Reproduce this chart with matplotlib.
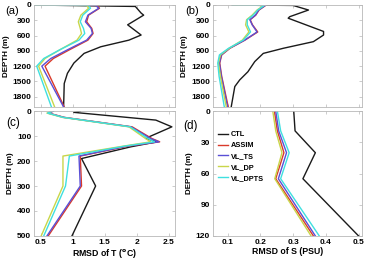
import matplotlib
matplotlib.use("Agg")
import matplotlib.pyplot as plt

plt.rcParams['font.family'] = ['Liberation Sans', 'DejaVu Sans']

# series names and colours
names = ["CTL", "ASSIM", "VL_TS", "VL_DP", "VL_DPTS"]
colors = ["#1a1a1a", "#d93a2b", "#5a4fd6", "#c9d64a", "#3fe0e0"]

# (a) RMSD of T, full depth
depth_a_ctl = [0, 30, 160, 200, 390, 590, 690, 820, 950, 1140, 1340, 1540, 2000]
t_a_ctl = [0.3, 1.98, 2.07, 2.11, 1.86, 2.07, 1.88, 1.44, 1.18, 1.02, 0.92, 0.87, 0.86]
depth_a = [0, 10, 65, 200, 330, 460, 560, 690, 880, 1050, 1200, 2000]
t_a_assim = [0.3, 1.38, 1.42, 1.25, 1.22, 1.30, 1.32, 1.24, 0.95, 0.70, 0.57, 0.87]
t_a_vlts = [0.3, 1.36, 1.41, 1.24, 1.20, 1.29, 1.31, 1.22, 0.92, 0.66, 0.52, 0.86]
t_a_vldp = [0.3, 1.22, 1.25, 1.13, 1.09, 1.12, 1.14, 1.07, 0.80, 0.57, 0.47, 0.72]
t_a_vldpts = [0.3, 1.25, 1.28, 1.16, 1.12, 1.17, 1.19, 1.10, 0.80, 0.55, 0.44, 0.67]

# (b) RMSD of S, full depth
depth_b_ctl = [0, 10, 100, 230, 260, 520, 590, 720, 850, 950, 1110, 1310, 1470, 1600, 2000]
s_b_ctl = [0.115, 0.30, 0.347, 0.29, 0.285, 0.393, 0.393, 0.362, 0.27, 0.209,
           0.183, 0.162, 0.137, 0.122, 0.111]
depth_b = [0, 10, 100, 200, 290, 390, 530, 690, 850, 980, 1140, 1400, 2000]
s_b_assim = [0.115, 0.216, 0.196, 0.186, 0.169, 0.176, 0.192, 0.153, 0.107, 0.082, 0.076, 0.082, 0.102]
s_b_vlts = [0.115, 0.215, 0.195, 0.185, 0.168, 0.175, 0.190, 0.152, 0.106, 0.081, 0.075, 0.081, 0.100]
s_b_vldp = [0.115, 0.210, 0.190, 0.175, 0.158, 0.155, 0.165, 0.145, 0.105, 0.078, 0.072, 0.078, 0.096]
s_b_vldpts = [0.115, 0.212, 0.192, 0.178, 0.160, 0.160, 0.170, 0.148, 0.103, 0.075, 0.070, 0.074, 0.090]

# (c) RMSD of T, upper 500 m
depth_c_ctl = [0, 5, 36, 63, 109, 123, 143, 190, 300, 500]
t_c_ctl = [1.12, 1.02, 2.30, 2.55, 2.14, 2.32, 1.91, 1.14, 1.36, 0.99]
depth_c = [0, 8, 25, 63, 110, 123, 140, 180, 300, 500]
t_c_assim = [0.70, 0.63, 0.87, 1.93, 2.24, 2.36, 1.87, 1.12, 1.14, 0.62]
t_c_vlts = [0.70, 0.62, 0.86, 1.91, 2.22, 2.35, 1.85, 1.10, 1.12, 0.60]
t_c_vldp = [0.68, 0.60, 0.84, 1.88, 2.14, 2.22, 1.80, 0.85, 0.85, 0.51]
t_c_vldpts = [0.69, 0.61, 0.85, 1.90, 2.18, 2.28, 1.82, 0.95, 0.89, 0.55]

# (d) RMSD of S, upper 120 m
depth_d = [0, 19, 40, 65, 120]
s_d_ctl = [0.302, 0.306, 0.368, 0.330, 0.500]
s_d_assim = [0.243, 0.252, 0.272, 0.247, 0.362]
s_d_vlts = [0.247, 0.256, 0.280, 0.255, 0.368]
s_d_vldp = [0.238, 0.247, 0.266, 0.244, 0.355]
s_d_vldpts = [0.252, 0.262, 0.288, 0.262, 0.380]

t_ticks = [0.5, 1, 1.5, 2, 2.5]
s_ticks = [0.1, 0.2, 0.3, 0.4, 0.5]

fig = plt.figure(figsize=(3.67, 2.59), dpi=100)
ax_a = fig.add_axes([0.093, 0.587, 0.384, 0.394])
ax_b = fig.add_axes([0.580, 0.587, 0.406, 0.394])
ax_c = fig.add_axes([0.093, 0.089, 0.384, 0.482])
ax_d = fig.add_axes([0.580, 0.089, 0.406, 0.482])

lw = 1.0


def draw(ax, ctl_d, ctl_v, d, series):
    ax.plot(ctl_v, ctl_d, color=colors[0], lw=lw, label=names[0])
    for i, v in enumerate(series):
        ax.plot(v, d, color=colors[i + 1], lw=lw, label=names[i + 1])


draw(ax_a, depth_a_ctl, t_a_ctl, depth_a, [t_a_assim, t_a_vlts, t_a_vldp, t_a_vldpts])
draw(ax_b, depth_b_ctl, s_b_ctl, depth_b, [s_b_assim, s_b_vlts, s_b_vldp, s_b_vldpts])
draw(ax_c, depth_c_ctl, t_c_ctl, depth_c, [t_c_assim, t_c_vlts, t_c_vldp, t_c_vldpts])
draw(ax_d, depth_d, s_d_ctl, depth_d, [s_d_assim, s_d_vlts, s_d_vldp, s_d_vldpts])

for ax in (ax_a, ax_c):
    ax.set_xlim(0.4, 2.6)
    ax.set_xticks(t_ticks)
for ax in (ax_b, ax_d):
    ax.set_xlim(0.055, 0.51)
    ax.set_xticks(s_ticks)

for ax in (ax_a, ax_b):
    ax.set_ylim(2000, 0)
    ax.set_yticks([0, 300, 600, 900, 1200, 1500, 1800])
    ax.set_xticklabels([])
ax_c.set_ylim(500, 0)
ax_c.set_yticks([0, 100, 200, 300, 400, 500])
ax_d.set_ylim(120, 0)
ax_d.set_yticks([0, 30, 60, 90, 120])
ax_c.set_xticklabels(["0.5", "1", "1.5", "2", "2.5"])
ax_d.set_xticklabels(["0.1", "0.2", "0.3", "0.4", "0.5"])

for ax in (ax_a, ax_b, ax_c, ax_d):
    for s in ax.spines.values():
        s.set_color("#b8b8b8")
        s.set_linewidth(0.6)
    ax.tick_params(direction="in", length=2, width=0.5, color="#b8b8b8",
                   top=True, right=True, labelsize=6, pad=2)
    for lab in ax.get_xticklabels() + ax.get_yticklabels():
        lab.set_fontweight("bold")
    ax.set_ylabel("DEPTH (m)", fontsize=5.8, fontweight="bold", labelpad=2)

ax_c.set_xlabel("RMSD of T ($^{\\mathbf{o}}$C)", fontsize=6.3, fontweight="bold", labelpad=1)
ax_d.set_xlabel("RMSD of S (PSU)", fontsize=6.3, fontweight="bold", labelpad=1)

leg = ax_d.legend(loc="upper left", bbox_to_anchor=(0.0, 0.88), frameon=False,
                  fontsize=5.3, handlelength=1.4, handletextpad=0.3,
                  labelspacing=0.5, borderaxespad=0.3)
for t in leg.get_texts():
    t.set_fontweight("bold")

fig.text(0.034, 0.957, "(a)", fontsize=8, ha="center", va="center")
fig.text(0.523, 0.957, "(b)", fontsize=8, ha="center", va="center")
fig.text(0.036, 0.525, "(c)", fontsize=8.5, ha="center", va="center")
fig.text(0.518, 0.515, "(d)", fontsize=8.5, ha="center", va="center")

fig.savefig("out.png", dpi=100)
